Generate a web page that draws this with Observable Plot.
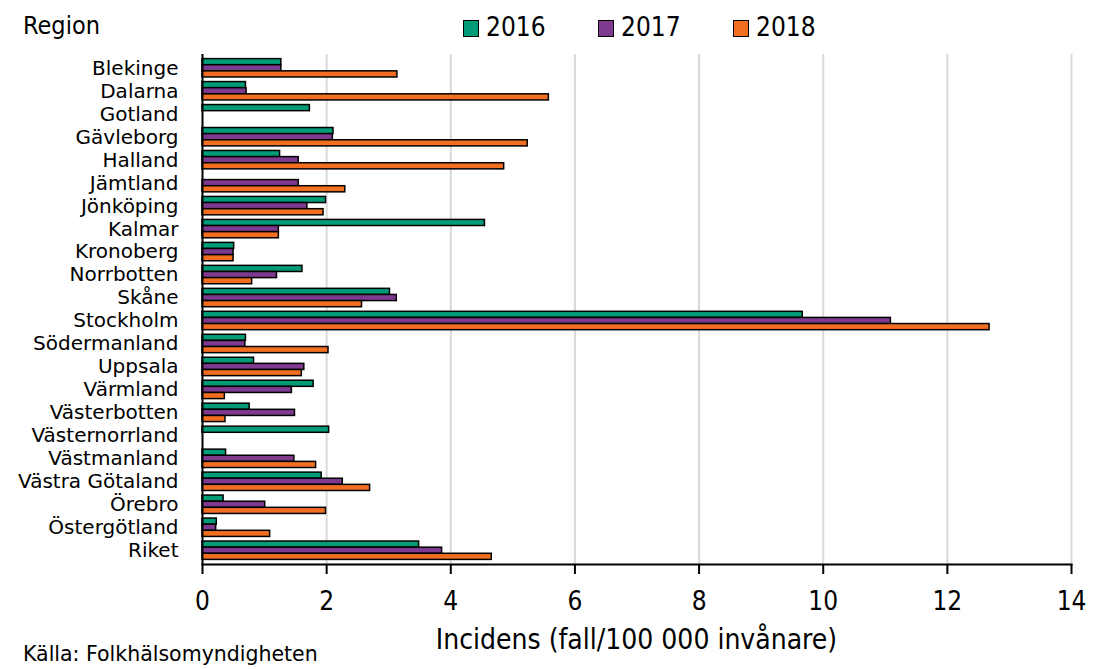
<!DOCTYPE html>
<html>
<head>
<meta charset="utf-8">
<script src="https://cdn.jsdelivr.net/npm/d3@7"></script>
<script src="https://cdn.jsdelivr.net/npm/@observablehq/plot@0.6"></script>
<style>
  html, body { margin: 0; padding: 0; background: #fff; }
  #wrap { position: relative; width: 1094px; height: 669px; overflow: hidden; font-family: "DejaVu Sans Condensed", "DejaVu Sans", sans-serif; color: #000; }
  #wrap svg { position: absolute; left: 0; top: 0; }
  .ov { position: absolute; white-space: nowrap; line-height: 1; }
  .sw { position: absolute; width: 14px; height: 15px; border: 1.5px solid #000; }
</style>
</head>
<body>
<div id="wrap">
  <div class="ov" id="regionTitle" style="left:23px; top:13px; font-size:25px;">Region</div>
  <div id="legend"></div>
  <div class="ov" id="xlabel" style="left:0; width:1273px; text-align:center; top:626px; font-size:28px;"></div>
  <div class="ov" id="caption" style="left:23px; top:644px; font-size:20.5px; font-family:'DejaVu Sans', sans-serif;"></div>
</div>
<script>
const regions = ["Blekinge","Dalarna","Gotland","Gävleborg","Halland","Jämtland","Jönköping","Kalmar","Kronoberg","Norrbotten","Skåne","Stockholm","Södermanland","Uppsala","Värmland","Västerbotten","Västernorrland","Västmanland","Västra Götaland","Örebro","Östergötland","Riket"];
const years = ["2016","2017","2018"];
const v2016 = [1.27,0.70,1.73,2.11,1.25,null,1.99,4.55,0.51,1.61,3.02,9.67,0.70,0.83,1.79,0.76,2.04,0.38,1.92,0.34,0.23,3.49];
const v2017 = [1.27,0.71,null,2.10,1.55,1.55,1.69,1.23,0.50,1.20,3.13,11.09,0.69,1.64,1.44,1.49,null,1.48,2.26,1.01,0.22,3.86];
const v2018 = [3.14,5.58,null,5.24,4.86,2.30,1.95,1.23,0.50,0.80,2.57,12.68,2.03,1.60,0.36,0.37,null,1.83,2.70,1.99,1.09,4.66];
const colors = ["#009B77","#7E3A8E","#F26F21"];
const xTicks = [0,2,4,6,8,10,12,14];
const xLabel = "Incidens (fall/100 000 invånare)";
const caption = "Källa: Folkhälsomyndigheten";

const series = [v2016, v2017, v2018];
const rows = [];
years.forEach((yr, j) => regions.forEach((r, i) => {
  if (series[j][i] != null) rows.push({region: r, year: yr, value: series[j][i]});
}));

const W = 1094, H = 669, mt = 54, mb = 105, ml = 202, mr = 23, pad = 0.2;
const step = (H - mt - mb) / (regions.length + pad);
const bh = step * (1 - pad) / 3;

const barMarks = years.map((yr, j) => Plot.barX(rows.filter(d => d.year === yr), {
  x: "value", y: "region", fill: colors[j], stroke: "#000", strokeWidth: 1.5,
  insetTop: j * bh, insetBottom: (2 - j) * bh
}));

const chart = Plot.plot({
  width: W, height: H,
  marginTop: mt, marginBottom: mb, marginLeft: ml, marginRight: mr,
  style: {fontFamily: "'DejaVu Sans Condensed', 'DejaVu Sans', sans-serif", color: "#000", background: "transparent"},
  x: {domain: [0, 14]},
  y: {domain: regions, padding: pad, round: false},
  marks: [
    Plot.ruleX(xTicks.filter(t => t > 0), {stroke: "#d9d9d9", strokeWidth: 2}),
    ...barMarks,
    Plot.ruleX([0], {stroke: "#000", strokeWidth: 2}),
    Plot.frame({anchor: "bottom", stroke: "#000", strokeWidth: 2}),
    Plot.axisX({ticks: xTicks, tickSize: 10, tickPadding: 17, fontSize: 26, tickFormat: d3.format("d"), label: null, stroke: "#000", strokeWidth: 2}),
    Plot.axisY({tickSize: 0, tickPadding: 24, fontSize: 20, fontFamily: "'DejaVu Sans', sans-serif", label: null})
  ]
});
document.getElementById("wrap").prepend(chart);

document.getElementById("xlabel").textContent = xLabel;
document.getElementById("caption").textContent = caption;

const legend = document.getElementById("legend");
const legX = [463, 598, 733];
years.forEach((yr, j) => {
  const sw = document.createElement("div");
  sw.className = "sw";
  sw.style.left = legX[j] + "px";
  sw.style.top = "20px";
  sw.style.background = colors[j];
  legend.appendChild(sw);
  const t = document.createElement("div");
  t.className = "ov";
  t.style.left = (legX[j] + 23) + "px";
  t.style.top = "14px";
  t.style.fontSize = "26px";
  t.textContent = yr;
  legend.appendChild(t);
});
</script>
</body>
</html>
